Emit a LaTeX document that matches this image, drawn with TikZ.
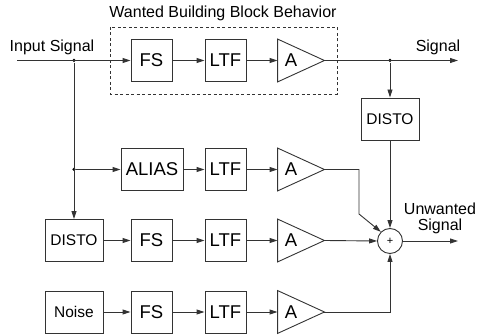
\documentclass[tikz,border=0pt]{standalone}
\usepackage{fontspec}
\setmainfont{Liberation Sans}
\usetikzlibrary{arrows.meta}
\begin{document}
\begin{tikzpicture}[x=1pt,y=-1pt,
  line width=0.9pt,
  ln/.style={draw=black!80, line width=0.9pt},
  blk/.style={draw=black!80, line width=0.9pt, minimum height=42pt, inner sep=0pt, font=\fontsize{18.5}{20}\selectfont},
  smallblk/.style={blk, minimum width=58pt, font=\fontsize{15.5}{18}\selectfont},
  ampbox/.style={draw=none, minimum width=46pt, minimum height=42pt, inner sep=0pt},
  amptext/.style={font=\fontsize{18.5}{20}\selectfont, inner sep=0pt},
  lbl/.style={font=\fontsize{16}{19}\selectfont, inner sep=0pt, align=center},
  arr/.style={ln, -{Triangle[length=8pt,width=5pt]}},
  dotc/.style={circle, fill=black, inner sep=0pt, minimum size=3.5pt}
]
\useasboundingbox (0,0) rectangle (483,336);

% dashed frame
\draw[ln, dash pattern=on 3pt off 2.5pt, line width=0.8pt] (110,27) rectangle (337,94);
\node[lbl] (title) at (223,13) {Wanted Building Block Behavior};

% row 1
\node[blk, minimum width=41pt] (fs1) at (151.5,60.5) {FS};
\node[blk, minimum width=41pt] (ltf1) at (225.5,60.5) {LTF};
\node[ampbox] (a1) at (301,60.5) {};
\draw[ln] (a1.north west) -- (a1.east) -- (a1.south west) -- cycle;
\node[amptext] (a1t) at (291,60.5) {A};

% row 2
\node[blk, minimum width=62pt] (alias) at (152,169.5) {ALIAS};
\node[blk, minimum width=41pt] (ltf2) at (225.5,169.5) {LTF};
\node[ampbox] (a2) at (301,169.5) {};
\draw[ln] (a2.north west) -- (a2.east) -- (a2.south west) -- cycle;
\node[amptext] (a2t) at (291,169.5) {A};

% row 3
\node[smallblk] (disto3) at (74,240.5) {DISTO};
\node[blk, minimum width=41pt] (fs3) at (151.5,240.5) {FS};
\node[blk, minimum width=41pt] (ltf3) at (225.5,240.5) {LTF};
\node[ampbox] (a3) at (301,240.5) {};
\draw[ln] (a3.north west) -- (a3.east) -- (a3.south west) -- cycle;
\node[amptext] (a3t) at (291,240.5) {A};

% row 4
\node[smallblk] (noise) at (74,312) {Noise};
\node[blk, minimum width=41pt] (fs4) at (151.5,312) {FS};
\node[blk, minimum width=41pt] (ltf4) at (225.5,312) {LTF};
\node[ampbox] (a4) at (301,312) {};
\draw[ln] (a4.north west) -- (a4.east) -- (a4.south west) -- cycle;
\node[amptext] (a4t) at (291,312) {A};

% right distortion block and summer
\node[smallblk] (disto1) at (390,119) {DISTO};
\node[circle, draw=black!80, line width=0.9pt, minimum size=25pt, inner sep=0pt, font=\fontsize{11}{12}\selectfont] (sum) at (390,241) {+};

% coordinates and dots
\coordinate (in) at (17,60.5);
\coordinate (out) at (458,60.5);
\coordinate (uout) at (458,241);
\node[dotc] (d1) at (74,60.5) {};
\node[dotc] (d2) at (74,169.5) {};
\node[dotc] (d3) at (390,60.5) {};

% labels
\node[lbl] (inlbl) at (52,47.5) {Input Signal};
\node[lbl] (siglbl) at (438,47.5) {Signal};
\node[lbl] (unlbl) at (440,218) {Unwanted\\[-3pt]Signal};

% connectors row 1
\draw[arr] (in) -- (fs1.west);
\draw[arr] (fs1) -- (ltf1);
\draw[arr] (ltf1) -- (a1.west);
\draw[arr] (a1.east) -- (out);
\draw[arr] (d3) -- (disto1.north);

% branch
\draw[arr] (d1) -- (disto3.north);
\draw[arr] (d2) -- (alias.west);

% row 2
\draw[arr] (alias) -- (ltf2);
\draw[arr] (ltf2) -- (a2.west);
\draw[arr] (a2.east) -- (359,169.5) -- (359,214) -- (sum.135);

% row 3
\draw[arr] (disto3) -- (fs3);
\draw[arr] (fs3) -- (ltf3);
\draw[arr] (ltf3) -- (a3.west);
\draw[arr] (a3.east) -- (sum.west);

% row 4
\draw[arr] (noise) -- (fs4);
\draw[arr] (fs4) -- (ltf4);
\draw[arr] (ltf4) -- (a4.west);
\draw[arr] (a4.east) -| (sum.south);

% summer in/out
\draw[arr] (disto1.south) -- (sum.north);
\draw[arr] (sum.east) -- (uout);
\end{tikzpicture}
\end{document}
